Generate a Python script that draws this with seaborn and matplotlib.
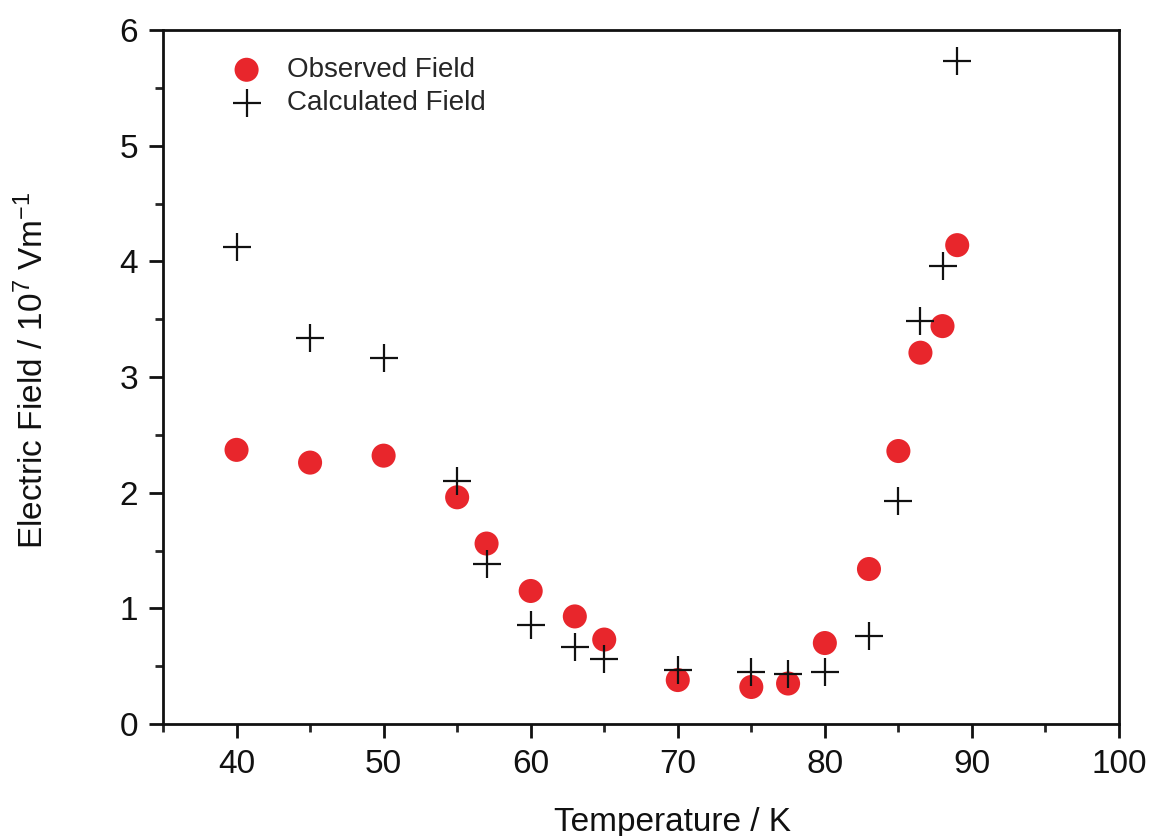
import matplotlib
matplotlib.use("Agg")
import matplotlib.pyplot as plt
import seaborn as sns
import pandas as pd
from matplotlib.ticker import MultipleLocator

temperature = [40, 45, 50, 55, 57, 60, 63, 65, 70, 75, 77.5, 80, 83, 85, 86.5, 88, 89]
observed = [2.37, 2.26, 2.32, 1.96, 1.56, 1.15, 0.93, 0.73, 0.38, 0.32, 0.35, 0.70, 1.34, 2.36, 3.21, 3.44, 4.14]
calculated = [4.12, 3.34, 3.16, 2.10, 1.38, 0.86, 0.67, 0.56, 0.47, 0.45, 0.43, 0.45, 0.76, 1.93, 3.48, 3.96, 5.73]

sns.set_style("ticks")
plt.rcParams['font.family'] = ['Liberation Sans', 'DejaVu Sans']
plt.rcParams['mathtext.fontset'] = 'custom'
plt.rcParams['mathtext.rm'] = 'Liberation Sans'
plt.rcParams['mathtext.it'] = 'Liberation Sans:italic'
plt.rcParams['mathtext.bf'] = 'Liberation Sans:bold'

df = pd.DataFrame({"T": temperature, "obs": observed, "calc": calculated})

fig = plt.figure(figsize=(11.5, 8.36), dpi=100)
ax = fig.add_axes([163/1150, 1-724/836, (1119-163)/1150, (724-30)/836])

sns.scatterplot(data=df, x="T", y="obs", ax=ax, color="#e8262c", s=300,
                edgecolor="none", marker="o", label="Observed Field", zorder=2)
sns.scatterplot(data=df, x="T", y="calc", ax=ax, color="#111111", s=420,
                marker="+", linewidth=1.6, label="Calculated Field", zorder=3)

ax.set_xlim(35, 100)
ax.set_ylim(0, 6)
ax.xaxis.set_major_locator(MultipleLocator(10))
ax.xaxis.set_minor_locator(MultipleLocator(5))
ax.yaxis.set_major_locator(MultipleLocator(1))
ax.yaxis.set_minor_locator(MultipleLocator(0.5))

for s in ax.spines.values():
    s.set_linewidth(2.0)
    s.set_color("#111111")

ax.tick_params(axis="both", which="major", length=10, width=2, labelsize=24,
               direction="out", pad=8, colors="#111111")
ax.tick_params(axis="both", which="minor", length=6, width=2, direction="out")
ax.tick_params(top=False, right=False, which="both")

ax.set_xlabel("Temperature / K", fontsize=24, color="#111111")
ax.set_ylabel("Electric Field / 10$^{7}$ Vm$^{-1}$", fontsize=24, color="#111111")
ax.xaxis.set_label_coords(0.533, -0.12)
ax.yaxis.set_label_coords(-0.118, 0.51)

leg = ax.legend(loc="upper left", bbox_to_anchor=(0.070, 0.961), frameon=False,
                fontsize=20, handlelength=1.2, handletextpad=0.84, labelspacing=0.25,
                markerscale=1.0, borderaxespad=0, borderpad=0)

fig.savefig("out.png", dpi=100)
